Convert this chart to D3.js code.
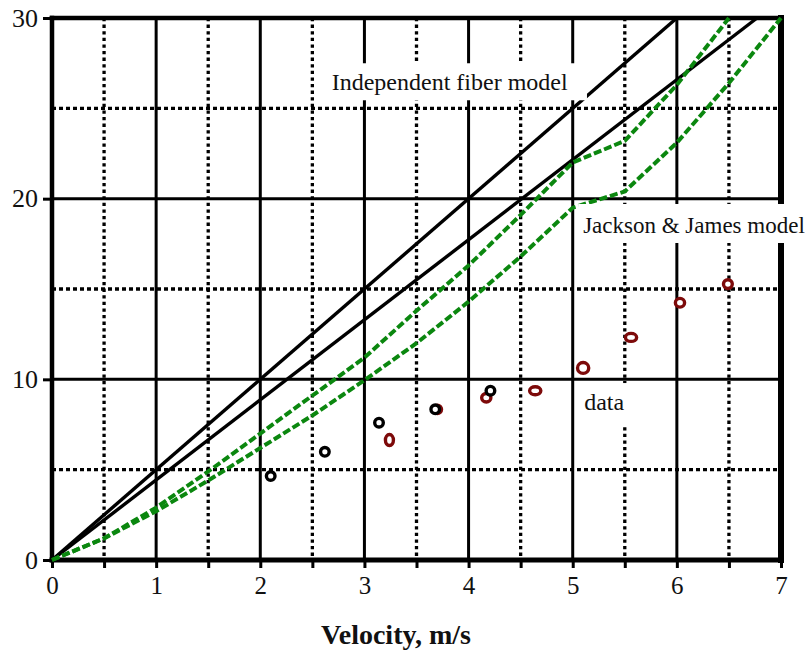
<!DOCTYPE html>
<html lang="en">

<head>
  <meta charset="utf-8">
  <script src="https://d3js.org/d3.v7.min.js"></script>
  <style>
    body {
      margin: 0;
      background: #fff;
    }

    text {
      font-family: "Liberation Serif", "Times New Roman", serif;
      fill: #111;
    }
  </style>
</head>

<body>
  <svg width="810" height="650"></svg>
  <script>
    // axis ticks
    const xMajor = [0, 1, 2, 3, 4, 5, 6, 7];
    const xMinor = [0.5, 1.5, 2.5, 3.5, 4.5, 5.5, 6.5];
    const yMajor = [0, 10, 20, 30];
    const yMinor = [5, 15, 25];

    // independent fiber model (two straight lines)
    const indepAVel = [0, 6];
    const indepAVal = [0, 30];
    const indepBVel = [0, 6.77];
    const indepBVal = [0, 30];

    // Jackson & James model (two dashed curves)
    const jjVel = [0, 0.5, 1, 1.5, 2, 2.5, 3, 3.5, 4, 4.5, 5, 5.5, 6, 6.5, 7];
    const jjUpper = [0, 1.2, 2.9, 4.9, 7.0, 9.1, 11.2, 13.8, 16.3, 19.1, 22.0, 23.2, 26.3, 30];
    const jjLower = [0, 1.2, 2.7, 4.4, 6.2, 8.0, 9.95, 12.0, 14.3, 16.8, 19.5, 20.4, 23.1, 26.4, 30];

    // measured data
    const blackVel = [2.10, 2.62, 3.14, 3.68, 4.21];
    const blackVal = [4.65, 5.99, 7.60, 8.34, 9.37];
    const redVel = [3.24, 3.70, 4.17, 4.64, 5.10, 5.56, 6.03, 6.49];
    const redVal = [6.64, 8.34, 8.98, 9.37, 10.63, 12.32, 14.24, 15.27];

    // marker shape (rx, ry) for the red points, style only
    const redShape = [[4, 5.5], [4.2, 4.2], [4.6, 4.2], [5.6, 4], [5.6, 5.4], [5.6, 4], [4.6, 4.4], [4.4, 4.4]];

    const svg = d3.select("svg");
    const x = d3.scaleLinear().domain([0, 7]).range([52, 781]);
    const y = d3.scaleLinear().domain([0, 30]).range([560, 18]);

    // minor dotted grid
    svg.append("g").selectAll("line").data(xMinor).join("line")
      .attr("x1", d => x(d)).attr("x2", d => x(d))
      .attr("y1", y(30)).attr("y2", y(0))
      .attr("stroke", "#000").attr("stroke-width", 3.3)
      .attr("stroke-dasharray", "3.3,3.3");
    svg.append("g").selectAll("line").data(yMinor).join("line")
      .attr("x1", x(0)).attr("x2", x(7))
      .attr("y1", d => y(d)).attr("y2", d => y(d))
      .attr("stroke", "#000").attr("stroke-width", 3.3)
      .attr("stroke-dasharray", "4,3");

    // major solid grid
    svg.append("g").selectAll("line").data(xMajor.slice(1, -1)).join("line")
      .attr("x1", d => x(d)).attr("x2", d => x(d))
      .attr("y1", y(30)).attr("y2", y(0))
      .attr("stroke", "#000").attr("stroke-width", 3);
    svg.append("g").selectAll("line").data(yMajor.slice(1, -1)).join("line")
      .attr("x1", x(0)).attr("x2", x(7))
      .attr("y1", d => y(d)).attr("y2", d => y(d))
      .attr("stroke", "#000").attr("stroke-width", 3);

    // axes
    const xAxis = d3.axisBottom(x)
      .tickValues(xMajor.concat(xMinor))
      .tickSize(8)
      .tickPadding(6)
      .tickFormat(d => Number.isInteger(d) ? d : "");
    const gx = svg.append("g").attr("transform", `translate(0,${y(0)})`).call(xAxis);
    gx.select(".domain").remove();
    gx.selectAll(".tick line").attr("stroke", "#000").attr("stroke-width", 3);
    gx.selectAll(".tick text").attr("font-size", 25).attr("font-family", "Liberation Serif").attr("fill", "#111")
      .attr("dy", "0.78em");

    const yAxis = d3.axisLeft(y).tickValues(yMajor).tickSize(9).tickPadding(5);
    const gy = svg.append("g").attr("transform", `translate(${x(0)},0)`).call(yAxis);
    gy.select(".domain").remove();
    gy.selectAll(".tick line").attr("stroke", "#000").attr("stroke-width", 3);
    gy.selectAll(".tick text").attr("font-size", 26).attr("font-family", "Liberation Serif").attr("fill", "#111");

    // frame
    const frame = svg.append("g").attr("stroke", "#000").attr("stroke-linecap", "square");
    frame.append("line").attr("x1", x(0)).attr("x2", x(7)).attr("y1", y(30)).attr("y2", y(30)).attr("stroke-width", 4.5);
    frame.append("line").attr("x1", x(0)).attr("x2", x(7)).attr("y1", y(0)).attr("y2", y(0)).attr("stroke-width", 5);
    frame.append("line").attr("x1", x(0)).attr("x2", x(0)).attr("y1", y(30)).attr("y2", y(0)).attr("stroke-width", 4.5);
    frame.append("line").attr("x1", x(7)).attr("x2", x(7)).attr("y1", y(30)).attr("y2", y(0)).attr("stroke-width", 6);

    const line = d3.line().x(d => x(d[0])).y(d => y(d[1]));

    // independent fiber model lines
    [[indepAVel, indepAVal], [indepBVel, indepBVal]].forEach(([vs, fs]) => {
      svg.append("path")
        .datum(vs.map((v, i) => [v, fs[i]]))
        .attr("d", line)
        .attr("fill", "none")
        .attr("stroke", "#000")
        .attr("stroke-width", 3.4);
    });

    // Jackson & James model curves
    [jjUpper, jjLower].forEach(vals => {
      svg.append("path")
        .datum(vals.map((f, i) => [jjVel[i], f]))
        .attr("d", line)
        .attr("fill", "none")
        .attr("stroke", "#0b870f")
        .attr("stroke-width", 4)
        .attr("stroke-dasharray", "8,3");
    });

    // annotations with white boxes
    const notes = [
      { text: "Independent fiber model", v: 2.686, f: 26.0, size: 24, pad: [6, 19, 6, 5] },
      { text: "Jackson & James model", v: 5.10, f: 18.1, size: 23, pad: [5, 6, 9, 5] },
      { text: "data", v: 5.11, f: 8.3, size: 24, pad: [4, 3, 6, 10] }
    ];
    notes.forEach(n => {
      const g = svg.append("g");
      const rect = g.append("rect").attr("fill", "#fff");
      const t = g.append("text")
        .attr("x", x(n.v)).attr("y", y(n.f))
        .attr("font-size", n.size)
        .text(n.text);
      const b = t.node().getBBox();
      rect.attr("x", b.x - n.pad[0])
        .attr("y", b.y - n.pad[2])
        .attr("width", b.width + n.pad[0] + n.pad[1])
        .attr("height", b.height + n.pad[2] + n.pad[3]);
    });

    // data points, red first so black sits on top
    svg.append("g").selectAll("ellipse").data(redVel).join("ellipse")
      .attr("cx", d => x(d))
      .attr("cy", (d, i) => y(redVal[i]))
      .attr("rx", (d, i) => redShape[i][0])
      .attr("ry", (d, i) => redShape[i][1])
      .attr("fill", "#fff")
      .attr("stroke", "#7d0a0a")
      .attr("stroke-width", 3.4);
    svg.append("g").selectAll("circle").data(blackVel).join("circle")
      .attr("cx", d => x(d))
      .attr("cy", (d, i) => y(blackVal[i]))
      .attr("r", 4.3)
      .attr("fill", "#fff")
      .attr("stroke", "#000")
      .attr("stroke-width", 3.4);

    // axis title
    svg.append("text")
      .attr("x", 396).attr("y", 644)
      .attr("text-anchor", "middle")
      .attr("font-size", 28)
      .attr("font-weight", "bold")
      .text("Velocity, m/s");
  </script>
</body>

</html>
